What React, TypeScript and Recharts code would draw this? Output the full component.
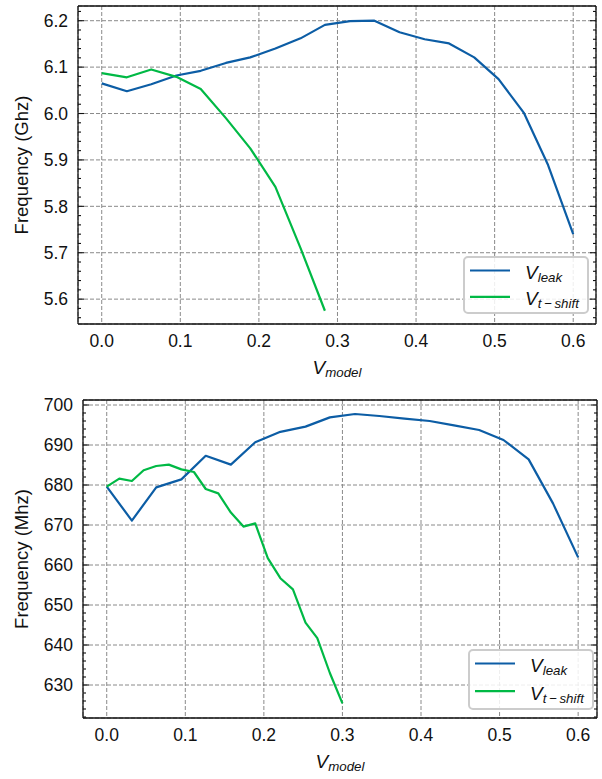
import React from "react";
import { LineChart, Line, XAxis, YAxis, CartesianGrid, Legend } from "recharts";

const FONT = "'Liberation Sans', Arial, Helvetica, sans-serif";
const INK = "#111";
const BLUE = "#0C5DA5";
const GREEN = "#00B945";

// V_model sample points (20 steps on 0..0.6 and 20 steps on 0..0.3)
const vModel = [0, 0.032, 0.063, 0.095, 0.126, 0.158, 0.189, 0.221, 0.253, 0.284, 0.316, 0.347, 0.379, 0.411, 0.442, 0.474, 0.505, 0.537, 0.568, 0.6];
const vModelFine = [0, 0.016, 0.032, 0.047, 0.063, 0.079, 0.095, 0.111, 0.126, 0.142, 0.158, 0.174, 0.189, 0.205, 0.221, 0.237, 0.253, 0.268, 0.284, 0.3];

// top panel, GHz
const ghzLeak = [6.065, 6.048, 6.063, 6.082, 6.092, 6.109, 6.121, 6.14, 6.162, 6.191, 6.199, 6.2, 6.175, 6.16, 6.151, 6.121, 6.074, 6.002, 5.889, 5.74];
const ghzShift = [6.087, 6.078, 6.095, 6.079, 6.053, 5.99, 5.925, 5.842, 5.71, 5.575];

// bottom panel, MHz
const mhzLeak = [679.6, 671.1, 679.4, 681.4, 687.3, 685.1, 690.7, 693.3, 694.6, 696.9, 697.75, 697.25, 696.6, 696.0, 694.9, 693.75, 691.25, 686.4, 675.4, 661.9];
const mhzShift = [679.6, 681.6, 681.0, 683.7, 684.75, 685.1, 683.9, 683.25, 679.0, 677.9, 673.1, 669.6, 670.4, 661.7, 656.7, 653.9, 645.6, 641.7, 633.0, 625.4];

const seriesNames = ["leak", "t\u2009\u2212\u2009shift"];

const xTicks = [0, 0.1, 0.2, 0.3, 0.4, 0.5, 0.6];
const ghzTicks = [5.6, 5.7, 5.8, 5.9, 6.0, 6.1, 6.2];
const mhzTicks = [630, 640, 650, 660, 670, 680, 690, 700];

const minor = (from: number, to: number, step: number, major: number[]) => {
  const out: number[] = [];
  for (let v = from; v <= to + 1e-9; v += step) {
    const r = Math.round(v * 1000) / 1000;
    if (!major.some((m) => Math.abs(m - r) < 1e-6)) out.push(r);
  }
  return out;
};

const pts = (xs: number[], ys: number[]) => ys.map((y, i) => ({ x: xs[i], y }));

const AXIS = { stroke: INK, strokeWidth: 1.3 };
const TICK = { stroke: INK, strokeWidth: 1.1 };
const TICK_TEXT = { fontFamily: FONT, fontSize: 17.5, fill: INK };
const noLabel = () => <g />;

function XTitle(props: any) {
  const vb = props.viewBox ?? { x: 0, y: 0, width: 0, height: 0 };
  return (
    <text x={vb.x + vb.width / 2} y={vb.y + 50} textAnchor="middle" fontFamily={FONT} fontStyle="italic" fontSize={19} fill={INK}>
      V<tspan fontSize={13.3} dy={3}>model</tspan>
    </text>
  );
}

function YTitle(props: any) {
  const vb = props.viewBox ?? { x: 0, y: 0, width: 0, height: 0 };
  const cy = vb.y + vb.height / 2;
  return (
    <text x={28} y={cy} transform={`rotate(-90, 28, ${cy})`} textAnchor="middle" fontFamily={FONT} fontSize={18.5} fill={INK}>
      {props.text}
    </text>
  );
}

function LegendBox({ rowGap, height }: { rowGap: number; height: number }) {
  const colors = [BLUE, GREEN];
  return (
    <svg width={126} height={height} style={{ display: "block" }}>
      <rect x={1} y={1} width={124} height={height - 2} rx={4} fill="#fff" fillOpacity={0.85} stroke="#cccccc" strokeWidth={2} />
      {seriesNames.map((name, i) => {
        const cy = 14.5 + i * rowGap;
        return (
          <g key={name}>
            <line x1={7} x2={47} y1={cy} y2={cy} stroke={colors[i]} strokeWidth={2.2} />
            <text x={62} y={cy + 8.3} fontFamily={FONT} fontStyle="italic" fontSize={19} fill={INK}>
              V<tspan fontSize={13.3} dy={3}>{name}</tspan>
            </text>
          </g>
        );
      })}
    </svg>
  );
}

interface PanelProps {
  top: number;
  height: number;
  margin: { top: number; right: number; bottom: number; left: number };
  yWidth: number;
  xDomain: [number, number];
  yDomain: [number, number];
  yTicks: number[];
  yMinor: number[];
  yFmt: (v: number) => string;
  yTitle: string;
  leak: { x: number; y: number }[];
  shift: { x: number; y: number }[];
  legendPos: { left: number; top: number };
  legendGap: number;
  legendHeight: number;
}

function Panel(p: PanelProps) {
  const xMinor = minor(-0.02, 0.62, 0.02, xTicks);
  const xFrame = (id: string, orientation: "top" | "bottom", ticks: number[], size: number, line: boolean) => (
    <XAxis key={id} xAxisId={id} orientation={orientation} mirror type="number" domain={p.xDomain} allowDataOverflow
      ticks={ticks} interval={0} tick={noLabel} tickSize={size} axisLine={line ? AXIS : false} tickLine={TICK} />
  );
  const yFrame = (id: string, orientation: "left" | "right", ticks: number[], size: number, line: boolean) => (
    <YAxis key={id} yAxisId={id} orientation={orientation} mirror width={0.01} type="number" domain={p.yDomain} allowDataOverflow
      ticks={ticks} interval={0} tick={noLabel} tickSize={size} axisLine={line ? AXIS : false} tickLine={TICK} />
  );
  return (
    <div style={{ position: "absolute", left: 0, top: p.top }}>
      <LineChart width={602} height={p.height} margin={p.margin}>
        <CartesianGrid xAxisId="x" yAxisId="y" stroke="#8a8a8a" strokeDasharray="4 2" strokeWidth={1} />
        <XAxis xAxisId="x" type="number" dataKey="x" domain={p.xDomain} allowDataOverflow ticks={xTicks} interval={0}
          height={61} tickLine={false} axisLine={false} tickSize={0} tickMargin={11} tick={TICK_TEXT}
          tickFormatter={(v: number) => v.toFixed(1)} label={<XTitle />} />
        <YAxis yAxisId="y" type="number" dataKey="y" domain={p.yDomain} allowDataOverflow ticks={p.yTicks} interval={0}
          width={p.yWidth} tickLine={false} axisLine={false} tickSize={0} tickMargin={10} tick={TICK_TEXT}
          tickFormatter={p.yFmt} label={<YTitle text={p.yTitle} />} />
        {xFrame("xb", "bottom", xTicks, 6, true)}
        {xFrame("xbm", "bottom", xMinor, 3, false)}
        {xFrame("xt", "top", xTicks, 6, true)}
        {xFrame("xtm", "top", xMinor, 3, false)}
        {yFrame("yl", "left", p.yTicks, 6, true)}
        {yFrame("ylm", "left", p.yMinor, 3, false)}
        {yFrame("yr", "right", p.yTicks, 6, true)}
        {yFrame("yrm", "right", p.yMinor, 3, false)}
        <Line xAxisId="x" yAxisId="y" data={p.leak} dataKey="y" name="leak" type="linear" stroke={BLUE} strokeWidth={2.2}
          dot={false} isAnimationActive={false} strokeLinejoin="round" />
        <Line xAxisId="x" yAxisId="y" data={p.shift} dataKey="y" name="shift" type="linear" stroke={GREEN} strokeWidth={2.2}
          dot={false} isAnimationActive={false} strokeLinejoin="round" />
        <Legend layout="vertical" align="center" verticalAlign="middle"
          wrapperStyle={{ left: p.legendPos.left, top: p.legendPos.top, width: 126, height: p.legendHeight }}
          content={() => <LegendBox rowGap={p.legendGap} height={p.legendHeight} />} />
      </LineChart>
    </div>
  );
}

export default function App() {
  return (
    <div style={{ position: "absolute", left: 0, top: 0, width: 602, height: 779, background: "#fff" }}>
      <Panel
        top={0}
        height={385}
        margin={{ top: 6, right: 6, bottom: 0, left: 0 }}
        yWidth={78}
        xDomain={[-0.0302, 0.629]}
        yDomain={[5.5464, 6.2317]}
        yTicks={ghzTicks}
        yMinor={minor(5.56, 6.22, 0.02, ghzTicks)}
        yFmt={(v: number) => v.toFixed(1)}
        yTitle="Frequency (Ghz)"
        leak={pts(vModel, ghzLeak)}
        shift={pts(vModel, ghzShift)}
        legendPos={{ left: 463, top: 256 }}
        legendGap={26.3}
        legendHeight={58}
      />
      <Panel
        top={385}
        height={394}
        margin={{ top: 15, right: 5, bottom: 0, left: 0 }}
        yWidth={83}
        xDomain={[-0.0302, 0.624]}
        yDomain={[621.75, 701.25]}
        yTicks={mhzTicks}
        yMinor={minor(622, 700, 2, mhzTicks)}
        yFmt={(v: number) => String(v)}
        yTitle="Frequency (Mhz)"
        leak={pts(vModel, mhzLeak)}
        shift={pts(vModelFine, mhzShift)}
        legendPos={{ left: 468, top: 264 }}
        legendGap={27.7}
        legendHeight={61}
      />
    </div>
  );
}
